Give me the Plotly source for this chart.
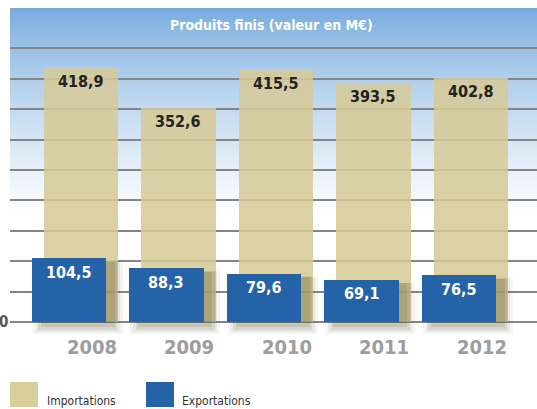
import plotly.graph_objects as go

years = ["2008", "2009", "2010", "2011", "2012"]
importations = [418.9, 352.6, 415.5, 393.5, 402.8]
exportations = [104.5, 88.3, 79.6, 69.1, 76.5]
title_text = "Produits finis (valeur en M€)"
legend_labels = ["Importations", "Exportations"]

W, H = 537, 409
ZERO_PX = 322
ML, MR, MT, MB = 10, 0, 8, 69
PW, PH = W - ML - MR, H - MT - MB
SCALE = 0.608  # px per unit

def px_x(p):
    return (p - ML) / PW

def px_y(p):
    return (H - MB - p) / PH

def fmt(v):
    return f"{v:.1f}".replace(".", ",")

FONT = "DejaVu Sans Condensed"
C_IMP = "rgba(214,202,150,0.86)"
C_EXP = "#2563a8"

xs = list(range(len(years)))
bw = 0.76
exp_shift = -0.123

fig = go.Figure()

# background gradient (header)
shapes = []
n = 60
top, bot = 8, 215
c0 = (118, 170, 221)
for i in range(n):
    a = top + (bot - top) * i / n
    b = top + (bot - top) * (i + 1) / n + 1.5
    t = (i + 0.5) / n
    t = t ** 0.8
    col = tuple(int(round(c0[k] + (255 - c0[k]) * t)) for k in range(3))
    shapes.append(dict(type="rect", xref="paper", yref="paper",
                       x0=0, x1=1, y0=px_y(b), y1=px_y(a),
                       fillcolor=f"rgb{col}", line=dict(width=0), layer="below"))

fig.add_trace(go.Bar(
    x=xs, y=importations, width=bw, offset=-bw / 2,
    marker=dict(color=C_IMP, line=dict(width=0)),
    name=legend_labels[0], showlegend=False,
))

# soft shadow of export bars (drawn over the import bars)
for grow, alpha in [(0.10, 0.05), (0.07, 0.07), (0.045, 0.09), (0.02, 0.11)]:
    g_units = grow * 97.5 / SCALE
    fig.add_trace(go.Bar(
        x=xs, y=[v + g_units for v in exportations],
        base=-(6 + g_units * 0.9),
        width=bw + 2 * grow - 0.04, offset=-bw / 2 + exp_shift + 0.09 - grow + 0.02,
        marker=dict(color=f"rgba(60,52,25,{alpha})", line=dict(width=0)),
        hoverinfo="skip", showlegend=False,
    ))

fig.add_trace(go.Bar(
    x=xs, y=exportations, width=bw, offset=-bw / 2 + exp_shift,
    marker=dict(color=C_EXP, line=dict(width=0)),
    name=legend_labels[1], showlegend=False,
))

annotations = []
for x, v in zip(xs, importations):
    annotations.append(dict(x=x, y=v, xref="x", yref="y", text=fmt(v),
                            showarrow=False, yanchor="middle", yshift=-14,
                            font=dict(family=FONT, size=16, color="#222222", weight="bold")))
for x, v in zip(xs, exportations):
    annotations.append(dict(x=x + exp_shift, y=v, xref="x", yref="y", text=fmt(v),
                            showarrow=False, yanchor="middle", yshift=-14,
                            font=dict(family=FONT, size=16, color="white", weight="bold")))

# year labels
for x, yr in zip(xs, years):
    annotations.append(dict(x=x + 0.11, y=px_y(347), xref="x", yref="paper", text=yr,
                            showarrow=False, xanchor="center", yanchor="middle",
                            font=dict(family=FONT, size=20, color="#9d9d9d", weight="bold")))

# "0" label
annotations.append(dict(x=px_x(10), y=0, xref="paper", yref="y", text="0",
                        showarrow=False, xanchor="right", yanchor="middle",
                        font=dict(family=FONT, size=15, color="#555555", weight="bold")))

# title
annotations.append(dict(x=px_x(271), y=px_y(25), xref="paper", yref="paper",
                        text=title_text, showarrow=False, xanchor="center", yanchor="middle",
                        font=dict(family=FONT, size=14, color="white", weight="bold")))

# legend
leg = [(10, "rgb(218,206,154)", legend_labels[0], 45),
       (146, C_EXP, legend_labels[1], 180)]
for sx, col, lab, tx in leg:
    shapes.append(dict(type="rect", xref="paper", yref="paper",
                       x0=px_x(sx), x1=px_x(sx + 28), y0=px_y(407), y1=px_y(382),
                       fillcolor=col, line=dict(width=0), layer="above"))
    annotations.append(dict(x=px_x(tx), y=px_y(401), xref="paper", yref="paper",
                            text=lab, showarrow=False, xanchor="left", yanchor="middle",
                            font=dict(family=FONT, size=12, color="#333333")))

yt = list(range(0, 451, 50))
ymin = -(H - MB - ZERO_PX) / SCALE
ymax = ymin + PH / SCALE
fig.update_layout(
    width=W, height=H,
    margin=dict(l=ML, r=MR, t=MT, b=MB, pad=0, autoexpand=False),
    paper_bgcolor="white", plot_bgcolor="rgba(0,0,0,0)",
    barmode="overlay", bargap=0,
    shapes=shapes, annotations=annotations,
    xaxis=dict(range=[-0.728, 4.677], showticklabels=False, automargin=False,
               showgrid=False, zeroline=False, showline=False, ticks=""),
    yaxis=dict(range=[ymin, ymax], tickmode="array", tickvals=yt,
               showticklabels=False, automargin=False,
               showgrid=True, gridcolor="#858585", gridwidth=1.5,
               zeroline=False, showline=False, ticks=""),
    font=dict(family=FONT),
    hovermode=False,
)

fig.write_html("out.html", config={"displayModeBar": False},
               post_script="document.body.style.margin='0';document.body.style.overflow='hidden';")
